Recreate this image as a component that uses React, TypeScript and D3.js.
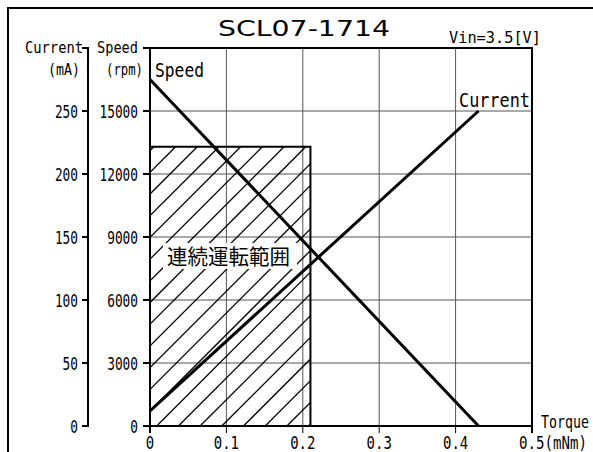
import React from "react";
import * as d3 from "d3";

const torque = [0, 0.43];
const speedValues = [16500, 0];
const currentValues = [12, 250];
const xTicks = [0, 0.1, 0.2, 0.3, 0.4, 0.5];
const xTickLabels = ["0", "0.1", "0.2", "0.3", "0.4", "0.5(mNm)"];
const speedTicks = [0, 3000, 6000, 9000, 12000, 15000];
const currentTicks = [0, 50, 100, 150, 200, 250];
const ratedTorque = 0.21;
const ratedSpeed = 13300;
const title = "SCL07-1714";
const vinLabel = "Vin=3.5[V]";
const regionLabel = "連続運転範囲";

const W = 593;
const H = 452;
const L = 150, R = 532, T = 48, B = 426;
const MONO = "'DejaVu Sans Mono', monospace";

type TProps = {
  x: number; y: number; len: number; size: number; anchor?: string; family?: string; children: string;
};
const Tx = ({ x, y, len, size, anchor = "start", family = MONO, children }: TProps) => (
  <text
    x={x}
    y={y}
    fontSize={size}
    fontFamily={family}
    textAnchor={anchor}
    textLength={len}
    lengthAdjust="spacingAndGlyphs"
    fill="#000"
  >
    {children}
  </text>
);

export default function App() {
  const x = d3.scaleLinear().domain([0, 0.5]).range([L, R]);
  const yS = d3.scaleLinear().domain([0, 18000]).range([B, T]);
  const yC = d3.scaleLinear().domain([0, 300]).range([B, T]);

  const speedLine = d3.line<number>().x((_, i) => x(torque[i])).y((d) => yS(d))(speedValues) || "";
  const currentLine = d3.line<number>().x((_, i) => x(torque[i])).y((d) => yC(d))(currentValues) || "";

  const rx0 = x(0), rx1 = x(ratedTorque), ry0 = yS(ratedSpeed), ry1 = yS(0);
  // hatch lines (45°), x + y = const
  const hatch: number[] = [];
  const step = 21.7;
  const phase = 582.7;
  for (let c = phase - step * 40; c < rx1 + ry1 + step; c += step) {
    if (c > rx0 + ry0 - step) hatch.push(c);
  }

  return (
    <svg width={W} height={H} style={{ position: "absolute", left: 0, top: 0, background: "#fff" }}>
      <defs>
        <clipPath id="rated">
          <rect x={rx0} y={ry0} width={rx1 - rx0} height={ry1 - ry0} />
        </clipPath>
      </defs>
      <rect x={0} y={0} width={W} height={H} fill="#fff" />
      {/* outer frame */}
      <rect x={8} y={8} width={800} height={800} fill="none" stroke="#000" strokeWidth={2} />

      {/* grid */}
      {xTicks.slice(1, -1).map((t) => (
        <line key={"gx" + t} x1={x(t)} x2={x(t)} y1={T} y2={B} stroke="#555" strokeWidth={1} />
      ))}
      {speedTicks.slice(1).map((t) => (
        <line key={"gy" + t} x1={L} x2={R} y1={yS(t)} y2={yS(t)} stroke="#555" strokeWidth={1} />
      ))}

      {/* continuous operation region */}
      <g clipPath="url(#rated)">
        {hatch.map((c) => (
          <line key={"h" + c} x1={c - ry1} y1={ry1} x2={c - ry0} y2={ry0} stroke="#000" strokeWidth={1.3} />
        ))}
      </g>
      <path d={`M${rx0},${ry0} H${rx1} V${ry1}`} fill="none" stroke="#000" strokeWidth={2} />
      <rect x={163} y={243} width={134} height={26} fill="#fff" />
      <Tx x={167} y={263.5} len={123} size={21} family="'Noto Sans CJK JP', sans-serif">{regionLabel}</Tx>

      {/* data lines */}
      <path d={speedLine} fill="none" stroke="#000" strokeWidth={3} />
      <path d={currentLine} fill="none" stroke="#000" strokeWidth={3} />

      {/* plot border */}
      <rect x={L} y={T} width={R - L} height={B - T} fill="none" stroke="#000" strokeWidth={2} />

      {/* x ticks */}
      {xTicks.map((t, i) => (
        <g key={"xt" + t}>
          <line x1={x(t)} x2={x(t)} y1={B} y2={B + 7} stroke="#000" strokeWidth={i === 0 || i === 5 ? 2 : 1} />
          {i < 5 ? (
            <Tx x={x(t)} y={449} len={xTickLabels[i].length * 8.4} size={18} anchor="middle">{xTickLabels[i]}</Tx>
          ) : (
            <Tx x={x(t) - 13} y={449} len={68} size={18}>{xTickLabels[i]}</Tx>
          )}
        </g>
      ))}
      <Tx x={541} y={428} len={48} size={17}>Torque</Tx>

      {/* speed axis ticks */}
      {[...speedTicks, 18000].map((t) => (
        <line key={"st" + t} x1={L - 7} x2={L} y1={yS(t)} y2={yS(t)} stroke="#000" strokeWidth={2} />
      ))}
      {speedTicks.map((t) => (
        <Tx key={"sl" + t} x={138} y={yS(t) + 6.5} len={String(t).length * 7.7} size={17.5} anchor="end">{String(t)}</Tx>
      ))}

      {/* current axis */}
      <line x1={88} x2={88} y1={T - 1} y2={B + 1} stroke="#000" strokeWidth={2} />
      {[...currentTicks, 300].map((t) => (
        <line key={"ct" + t} x1={82} x2={88} y1={yC(t)} y2={yC(t)} stroke="#000" strokeWidth={2} />
      ))}
      {currentTicks.map((t) => (
        <Tx key={"cl" + t} x={78} y={yC(t) + 6.5} len={String(t).length * 7.7} size={17.5} anchor="end">{String(t)}</Tx>
      ))}

      {/* axis headers */}
      <Tx x={25} y={53} len={58} size={15}>Current</Tx>
      <Tx x={48} y={74.5} len={32} size={15}>(mA)</Tx>
      <Tx x={97} y={53} len={41} size={15}>Speed</Tx>
      <Tx x={106} y={74.5} len={37} size={15}>(rpm)</Tx>

      {/* in-plot labels */}
      <Tx x={155} y={77} len={49} size={19.5}>Speed</Tx>
      <Tx x={459} y={107} len={71} size={19.5}>Current</Tx>

      {/* title and voltage */}
      <Tx x={218} y={35.5} len={172} size={22} family="'DejaVu Sans', sans-serif">{title}</Tx>
      <Tx x={449} y={42.5} len={92} size={16.5}>{vinLabel}</Tx>
    </svg>
  );
}
